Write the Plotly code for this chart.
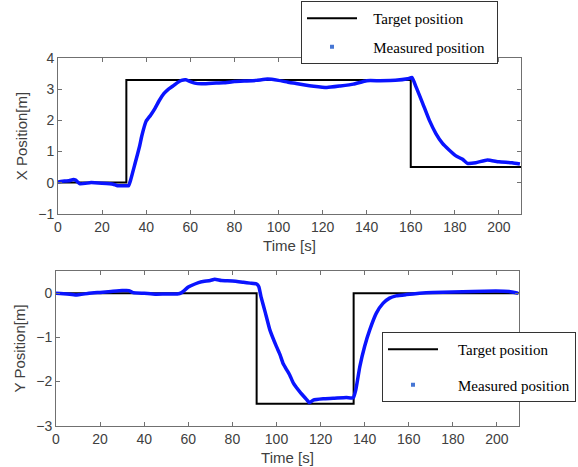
import plotly.graph_objects as go

# ---------------- data ----------------
# X position (top panel)
x_target_t = [0, 31, 31, 160, 160, 210]
x_target = [0, 0, 3.3, 3.3, 0.5, 0.5]

x_meas_t = [0, 3, 5, 7, 8, 10, 15, 20, 25, 27, 30, 32, 33, 35, 37, 38, 40, 42, 44, 46, 48, 50,
            52, 54, 56, 58, 60, 62, 65, 70, 75, 80, 85, 90, 95, 100, 105, 108, 112, 116, 122,
            128, 134, 140, 146, 153, 158.6, 160.6, 162.4, 165.4, 168.4, 171.4, 174.4, 177.4,
            180.5, 183.5, 185.7, 189.5, 194.7, 200, 206, 209.5]
x_meas = [0.02, 0.05, 0.06, 0.1, 0.08, -0.04, 0.0, -0.02, -0.05, -0.1, -0.1, -0.1, 0.1, 0.63,
          1.17, 1.5, 1.98, 2.17, 2.39, 2.65, 2.86, 3.0, 3.1, 3.21, 3.29, 3.31, 3.25, 3.2, 3.18,
          3.2, 3.21, 3.25, 3.27, 3.29, 3.33, 3.29, 3.22, 3.19, 3.14, 3.1, 3.06, 3.11, 3.17, 3.28,
          3.28, 3.29, 3.34, 3.38, 3.08, 2.55, 2.01, 1.58, 1.26, 1.05, 0.86, 0.75, 0.62, 0.64,
          0.73, 0.67, 0.64, 0.6]

# Y position (bottom panel)
y_target_t = [0, 91, 91, 135, 135, 210]
y_target = [0, 0, -2.5, -2.5, 0, 0]

y_meas_t = [0, 5, 9, 15, 20, 25, 30, 33, 35, 40, 45, 50, 55, 57, 60, 63, 66, 70, 72, 75, 80, 85,
            88, 91, 92, 93, 95, 97, 100, 101.6, 103, 104.6, 106, 107.6, 110.7, 113.7, 114.9,
            116.7, 121.2, 125.7, 131.7, 134.8, 136, 137.8, 140, 142.3, 145.3, 148.3, 151.3,
            154.3, 158.9, 164.9, 170.9, 179.9, 189, 199.5, 205.5, 209.6]
y_meas = [0.0, -0.015, -0.04, 0.0, 0.02, 0.04, 0.06, 0.06, 0.015, 0.0, -0.02, -0.015, -0.015,
          0.015, 0.14, 0.21, 0.26, 0.29, 0.32, 0.29, 0.28, 0.25, 0.23, 0.21, 0.15, -0.08, -0.45,
          -0.83, -1.21, -1.39, -1.59, -1.73, -1.85, -2.03, -2.24, -2.41, -2.48, -2.42, -2.39,
          -2.38, -2.36, -2.37, -2.18, -1.66, -1.2, -0.83, -0.45, -0.23, -0.11, -0.06, -0.03,
          0.0, 0.02, 0.03, 0.04, 0.05, 0.04, 0.0]

x_ticks = [0, 20, 40, 60, 80, 100, 120, 140, 160, 180, 200]
top_yticks = [-1, 0, 1, 2, 3, 4]
bot_yticks = [-3, -2, -1, 0]

legend_names = ["Target position", "Measured position"]

# ---------------- figure ----------------
W, H = 578, 467
BLUE = "#0a14ff"
MARK = "#4676d4"
NB = "\u00a0"

fig = go.Figure()

# top panel
fig.add_trace(go.Scatter(x=x_target_t, y=x_target, mode="lines",
                         line=dict(color="black", width=2),
                         name=NB * 3 + legend_names[0], legend="legend", legendgroup="a",
                         xaxis="x", yaxis="y"))
fig.add_trace(go.Scatter(x=x_meas_t, y=x_meas, mode="lines",
                         line=dict(color=BLUE, width=3.5, shape="spline", smoothing=0.4),
                         showlegend=False, xaxis="x", yaxis="y"))
fig.add_trace(go.Scatter(x=[None], y=[None], mode="markers",
                         marker=dict(symbol="square", size=4, color=MARK),
                         name=NB * 3 + legend_names[1] + NB * 2, legend="legend", legendgroup="b",
                         xaxis="x", yaxis="y"))

# bottom panel
fig.add_trace(go.Scatter(x=y_target_t, y=y_target, mode="lines",
                         line=dict(color="black", width=2),
                         name=NB * 4 + legend_names[0], legend="legend2", legendgroup="c",
                         xaxis="x2", yaxis="y2"))
fig.add_trace(go.Scatter(x=y_meas_t, y=y_meas, mode="lines",
                         line=dict(color=BLUE, width=3.5, shape="spline", smoothing=0.4),
                         showlegend=False, xaxis="x2", yaxis="y2"))
fig.add_trace(go.Scatter(x=[None], y=[None], mode="markers",
                         marker=dict(symbol="square", size=4, color=MARK),
                         name=NB * 4 + legend_names[1], legend="legend2", legendgroup="d",
                         xaxis="x2", yaxis="y2"))

def px_x(p):
    return p / W

def px_y(p):
    return 1 - p / H

tickfont = dict(family="Liberation Sans, Arial, sans-serif", size=14, color="#404040")
titlefont = dict(family="Liberation Sans, Arial, sans-serif", size=15, color="#404040")

common_axis = dict(showgrid=False, zeroline=False, showline=True, linecolor="#707070",
                   linewidth=1, mirror="ticks", ticks="inside", ticklen=4, tickcolor="#707070",
                   tickfont=tickfont, automargin=False)

fig.update_layout(
    width=W, height=H,
    margin=dict(l=0, r=0, t=0, b=0, autoexpand=False),
    paper_bgcolor="white", plot_bgcolor="white",
    xaxis=dict(domain=[px_x(58), px_x(521)], range=[0, 210], tickvals=x_ticks,
               anchor="y", title=dict(text="Time [s]", font=titlefont, standoff=6),
               **common_axis),
    yaxis=dict(domain=[px_y(213.7), px_y(58.3)], range=[-1, 4], tickvals=top_yticks,
               anchor="x", title=dict(text="X Position[m]", font=titlefont, standoff=6),
               **common_axis),
    xaxis2=dict(domain=[px_x(56), px_x(519)], range=[0, 210], tickvals=x_ticks,
                anchor="y2", title=dict(text="Time [s]", font=titlefont, standoff=6),
                **common_axis),
    yaxis2=dict(domain=[px_y(425.7), px_y(271.2)], range=[-3, 0.5], tickvals=bot_yticks,
                anchor="x2", title=dict(text="Y Position[m]", font=titlefont, standoff=6),
                **common_axis),
    legend=dict(x=px_x(301), y=px_y(1), xanchor="left", yanchor="top",
                bgcolor="white", bordercolor="#333333", borderwidth=1,
                font=dict(family="Liberation Serif, Times New Roman, serif", size=15, color="black"),
                tracegroupgap=6, itemwidth=50),
    legend2=dict(x=px_x(382), y=px_y(332), xanchor="left", yanchor="top",
                 bgcolor="white", bordercolor="#333333", borderwidth=1,
                 font=dict(family="Liberation Serif, Times New Roman, serif", size=15, color="black"),
                 tracegroupgap=13, itemwidth=50),
    showlegend=True,
)

fig.write_html("out.html", config={"displayModeBar": False},
               post_script="document.body.style.margin='0';document.body.style.overflow='hidden';")
